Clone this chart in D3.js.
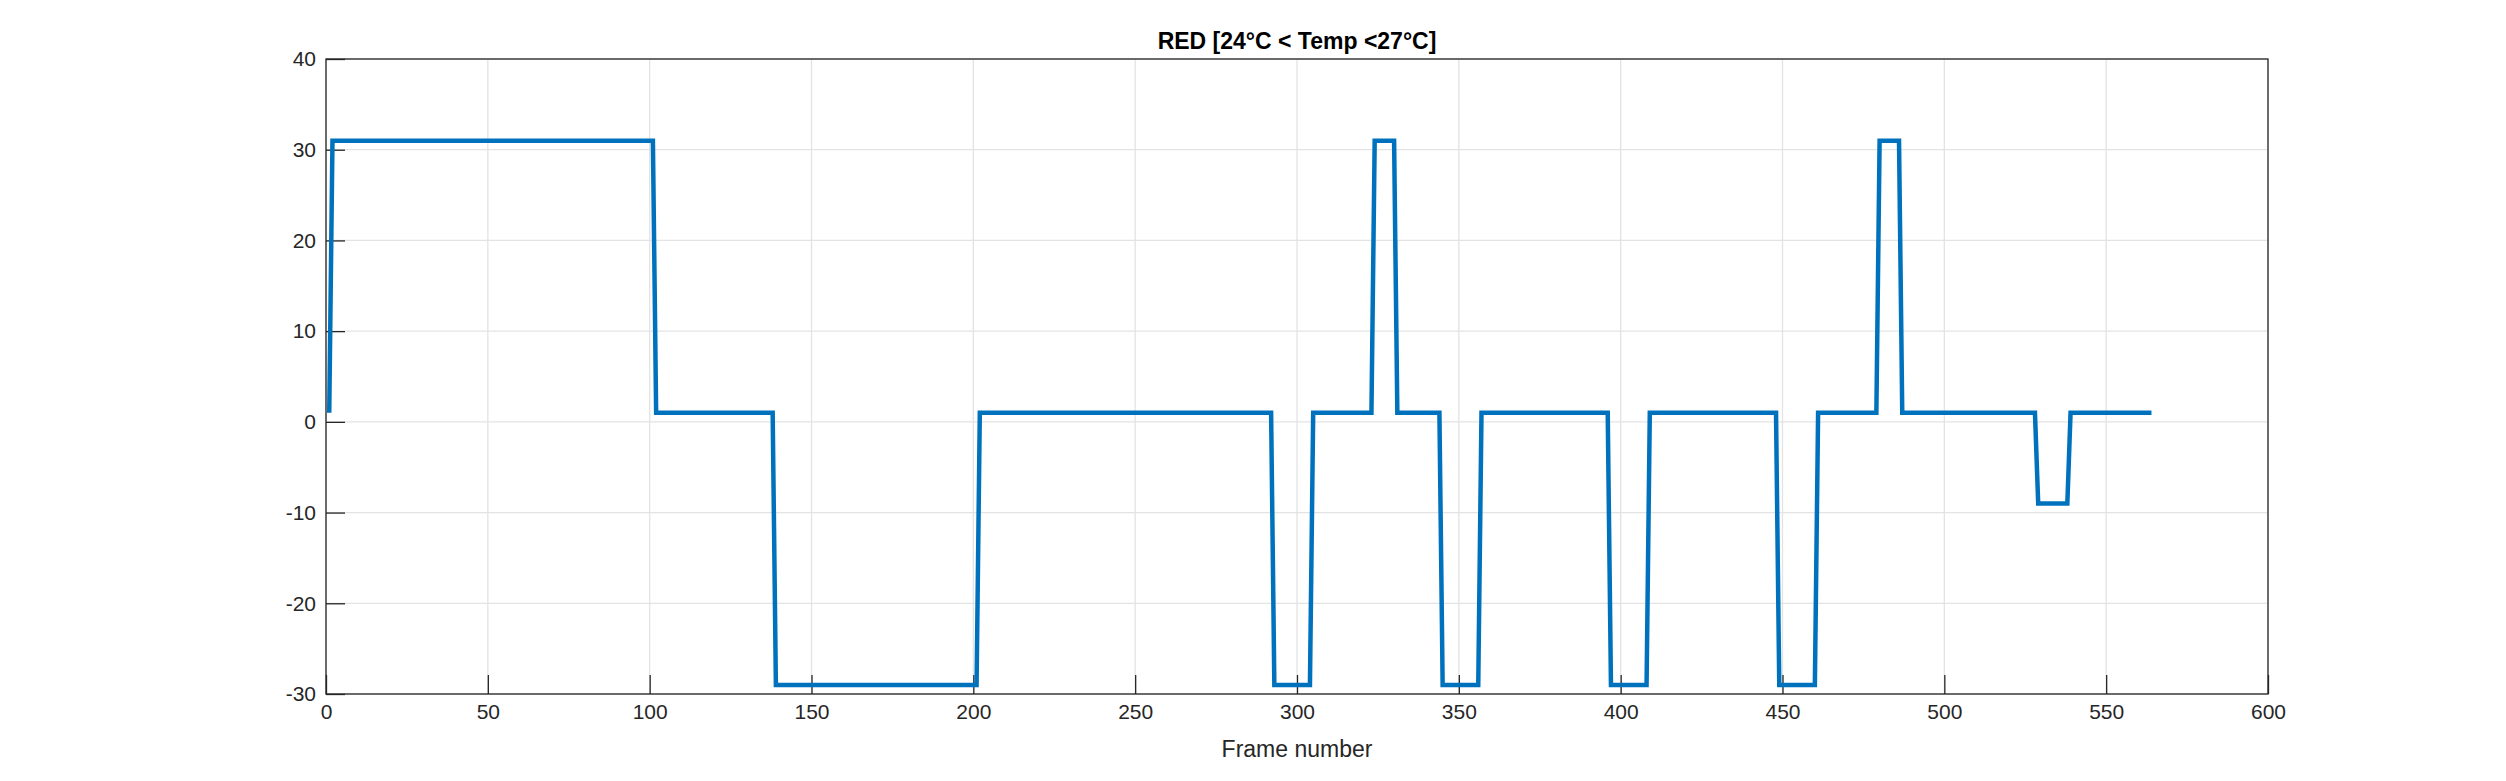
<!DOCTYPE html>
<html><head><meta charset="utf-8">
<script src="https://cdn.jsdelivr.net/npm/d3@7"></script>
<style>body{margin:0;background:#fff}svg{display:block;font-family:Arial,"Liberation Sans",sans-serif}</style>
</head><body><svg id="c" width="2506" height="781"></svg>
<script>
const titleText = "RED [24°C < Temp <27°C]";
const xLabel = "Frame number";
const frames = [1,2,101,102,138,139,201,202,292,293,304,305,323,324,330,331,344,345,356,357,396,397,408,409,448,449,460,461,479,480,486,487,528,529,538,539,564];
const values = [1,31,31,1,1,-29,-29,1,1,-29,-29,1,1,31,31,1,1,-29,-29,1,1,-29,-29,1,1,-29,-29,1,1,31,31,1,1,-9,-9,1,1];
const xTicks = [0,50,100,150,200,250,300,350,400,450,500,550,600];
const yTicks = [-30,-20,-10,0,10,20,30,40];

const svg = d3.select("#c");
const L=326,R=2268,T=59,B=694;
const x = d3.scaleLinear().domain([0,600]).range([L,R]);
const y = d3.scaleLinear().domain([-30,40]).range([B,T]);
const g = svg.append("g");
g.selectAll(".gx").data(xTicks).join("line").attr("x1",d=>x(d)).attr("x2",d=>x(d)).attr("y1",T).attr("y2",B).attr("stroke","#e3e3e3").attr("stroke-width",1.3);
g.selectAll(".gy").data(yTicks).join("line").attr("y1",d=>y(d)).attr("y2",d=>y(d)).attr("x1",L).attr("x2",R).attr("stroke","#e3e3e3").attr("stroke-width",1.3);
const fmt = d=>String(d);
const xa = svg.append("g").attr("transform",`translate(0,${B})`).call(d3.axisBottom(x).tickValues(xTicks).tickFormat(fmt).tickSizeInner(-19).tickSizeOuter(0).tickPadding(10));
const ya = svg.append("g").attr("transform",`translate(${L},0)`).call(d3.axisLeft(y).tickValues(yTicks).tickFormat(fmt).tickSizeInner(-19).tickSizeOuter(0).tickPadding(10));
[xa,ya].forEach(a=>{a.selectAll("path").remove();a.selectAll("line").attr("stroke","#262626").attr("stroke-width",1.3);a.selectAll("text").attr("font-size",21).attr("fill","#262626").style("font-family","Arial,'Liberation Sans',sans-serif");});
svg.append("rect").attr("x",L).attr("y",T).attr("width",R-L).attr("height",B-T).attr("fill","none").attr("stroke","#262626").attr("stroke-width",1.3);
const pts = frames.map((f,i)=>[f,values[i]]);
svg.append("path").datum(pts).attr("d",d3.line().x(d=>x(d[0])).y(d=>y(d[1]))).attr("fill","none").attr("stroke","#0072bd").attr("stroke-width",4.5);
svg.append("text").attr("x",(L+R)/2).attr("y",49).attr("text-anchor","middle").attr("font-weight","bold").attr("font-size",23).attr("fill","#000").text(titleText);
svg.append("text").attr("x",(L+R)/2).attr("y",757).attr("text-anchor","middle").attr("font-size",23).attr("fill","#262626").text(xLabel);
</script></body></html>
